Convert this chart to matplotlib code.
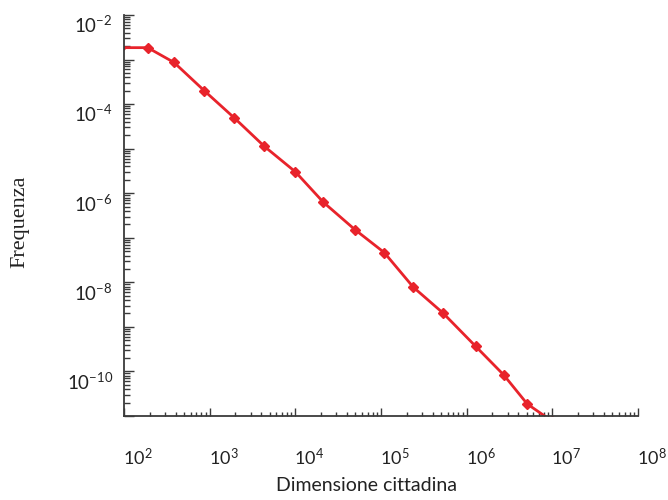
import numpy as np
import matplotlib
matplotlib.use("Agg")
import matplotlib.pyplot as plt
from matplotlib.ticker import LogLocator, FuncFormatter, NullFormatter
from matplotlib.transforms import ScaledTranslation

# city size bins and their frequency
city_size = [90, 189, 384, 865, 1940, 4340, 10000, 21200, 49700, 109000,
             238000, 529000, 1.27e6, 2.70e6, 5.1e6, 1.0e7]
frequency = [1.85e-3, 1.85e-3, 8.6e-4, 2.0e-4, 4.9e-5, 1.13e-5, 3.03e-6,
             6.3e-7, 1.52e-7, 4.67e-8, 7.8e-9, 2.05e-9, 3.68e-10, 8.4e-11,
             1.86e-11, 7.6e-12]

x_limits = (1e2, 1e8)
y_limits = (1e-11, 1e-2)

plt.rcParams['font.family'] = ['Lato', 'DejaVu Sans']
plt.rcParams['mathtext.fontset'] = 'custom'
plt.rcParams['mathtext.rm'] = 'Lato'

red = '#e8232b'
axis_grey = '#3a3a3a'


def sci_label(val, pos):
    e = int(round(np.log10(val)))
    return r'$\mathdefault{10^{%d}}$' % e


def even_label(val, pos):
    # only every second decade is labelled on the y axis
    e = int(round(np.log10(val)))
    if e % 2:
        return ''
    return r'$\mathdefault{10^{%d}}$' % e


fig = plt.figure(figsize=(6.68, 5.0), dpi=100)
ax = fig.add_axes([124 / 668, 1 - 416 / 500, (638 - 124) / 668, (416 - 15) / 500])

ax.plot(city_size, frequency, color=red, lw=2.0, marker='D', ms=5.5,
        mec=red, mfc=red)

ax.set_xscale('log')
ax.set_yscale('log')
ax.set_xlim(*x_limits)
ax.set_ylim(*y_limits)

ax.xaxis.set_major_locator(LogLocator(base=10, numticks=20))
ax.xaxis.set_minor_locator(LogLocator(base=10, subs=np.arange(2, 10), numticks=50))
ax.yaxis.set_major_locator(LogLocator(base=10, numticks=20))
ax.yaxis.set_minor_locator(LogLocator(base=10, subs=np.arange(2, 10), numticks=50))
ax.xaxis.set_major_formatter(FuncFormatter(sci_label))
ax.yaxis.set_major_formatter(FuncFormatter(even_label))
ax.xaxis.set_minor_formatter(NullFormatter())
ax.yaxis.set_minor_formatter(NullFormatter())

for side in ['top', 'right']:
    ax.spines[side].set_visible(False)
for side in ['left', 'bottom']:
    ax.spines[side].set_color(axis_grey)
    ax.spines[side].set_linewidth(1.3)

ax.tick_params(axis='x', which='major', direction='in', length=6, width=1,
               color=axis_grey, labelsize=13, labelcolor='#222222', pad=22)
ax.tick_params(axis='x', which='minor', direction='in', length=3, width=1,
               color=axis_grey)
ax.tick_params(axis='y', which='major', direction='in', length=7.5, width=1,
               color=axis_grey, labelsize=13.5, labelcolor='#222222', pad=8)
ax.tick_params(axis='y', which='minor', direction='in', length=4.5, width=1,
               color=axis_grey)

# tick labels sit a little off their ticks in the original
for lab in ax.get_xticklabels():
    lab.set_transform(lab.get_transform() + ScaledTranslation(0.14, 0, fig.dpi_scale_trans))
for lab in ax.get_yticklabels():
    lab.set_transform(lab.get_transform() + ScaledTranslation(0, -0.09, fig.dpi_scale_trans))

ax.set_xlabel('Dimensione cittadina', fontsize=14, color='#222222')
ax.xaxis.set_label_coords((366 - 124) / 514, -(477 - 416) / 401)
ax.set_ylabel('Frequenza', fontsize=16, color='#222222', family='Liberation Serif')
ax.yaxis.set_label_coords(-(124 - 29) / 514, (416 - 222) / 401)

fig.savefig('out.png', dpi=100)
